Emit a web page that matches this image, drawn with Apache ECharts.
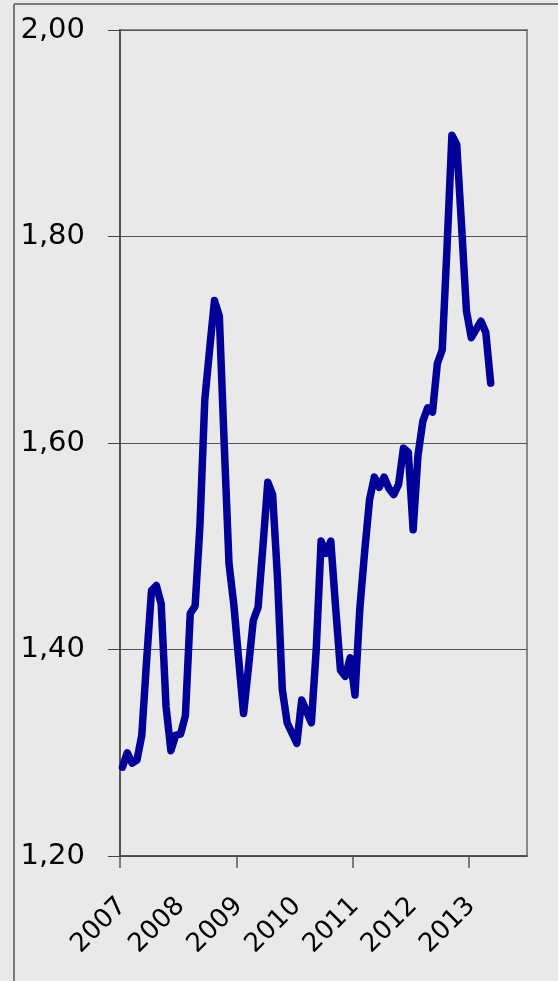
<!DOCTYPE html>
<html>
<head>
<meta charset="utf-8">
<style>
  html, body { margin: 0; padding: 0; background: #e9e9e9; }
  #chart { width: 558px; height: 981px; }
</style>
<script src="https://cdn.jsdelivr.net/npm/echarts@6/dist/echarts.min.js"></script>
</head>
<body>
<div id="chart"></div>
<script>
// Monthly categories, Jan 2007 - Dec 2013
const months = [];
for (let y = 2007; y <= 2013; y++) {
  for (let m = 1; m <= 12; m++) months.push(y + '-' + (m < 10 ? '0' + m : m));
}

// Monthly price, Jan 2007 - May 2013
const prices = [
  1.286, 1.300, 1.290, 1.293, 1.317, 1.390, 1.457, 1.462, 1.444, 1.345, 1.302, 1.317,
  1.318, 1.336, 1.435, 1.442, 1.520, 1.642, 1.691, 1.738, 1.723, 1.600, 1.483, 1.443,
  1.390, 1.338, 1.382, 1.428, 1.441, 1.500, 1.562, 1.550, 1.470, 1.361, 1.329, 1.319,
  1.309, 1.351, 1.340, 1.329, 1.400, 1.505, 1.493, 1.505, 1.441, 1.380, 1.374, 1.392,
  1.356, 1.440, 1.495, 1.545, 1.567, 1.557, 1.567, 1.556, 1.550, 1.560, 1.595, 1.591,
  1.516, 1.588, 1.621, 1.634, 1.630, 1.677, 1.690, 1.790, 1.898, 1.889, 1.810, 1.728,
  1.702, 1.710, 1.718, 1.707, 1.658
];

// Tick marks on the time axis every two years (month offsets)
const timeTicks = [0, 24, 48, 72];

// Value axis range and step
const yMin = 1.2;
const yMax = 2.0;
const yStep = 0.2;

const FONT = 'DejaVu Sans';

const chart = echarts.init(document.getElementById('chart'), null, { renderer: 'canvas' });

chart.setOption({
  backgroundColor: '#e9e9e9',
  animation: false,
  grid: {
    left: 120, right: 31, top: 30, bottom: 125,
    show: true,
    borderColor: '#8a8a8a',
    borderWidth: 2,
    backgroundColor: 'transparent'
  },
  xAxis: [
    {
      type: 'category',
      data: months,
      boundaryGap: true,
      axisLine: { show: true, lineStyle: { color: '#444', width: 1.5 } },
      axisTick: { show: false },
      axisLabel: {
        interval: function (i) { return i % 12 === 0; },
        formatter: function (v) { return v.slice(0, 4); },
        rotate: 45,
        margin: 46,
        color: '#000',
        fontFamily: FONT,
        fontSize: 26
      },
      splitLine: { show: false }
    },
    {
      // two-yearly tick marks along the bottom edge
      type: 'value',
      min: 0,
      max: months.length,
      position: 'bottom',
      axisLine: { show: false },
      axisTick: { show: true, length: 12, customValues: timeTicks, lineStyle: { color: '#555', width: 1.5 } },
      axisLabel: { show: false },
      splitLine: { show: false }
    }
  ],
  yAxis: {
    type: 'value',
    min: yMin,
    max: yMax,
    interval: yStep,
    axisLine: { show: true, lineStyle: { color: '#555', width: 2 } },
    axisTick: { show: true, inside: false, length: 12, lineStyle: { color: '#444', width: 1 } },
    axisLabel: {
      margin: 35,
      color: '#000',
      fontFamily: FONT,
      fontSize: 29,
      formatter: function (v) { return v.toFixed(2).replace('.', ','); }
    },
    splitLine: { show: true, lineStyle: { color: '#555', width: 1 } }
  },
  series: [{
    type: 'line',
    xAxisIndex: 0,
    data: prices,
    showSymbol: false,
    symbol: 'none',
    smooth: false,
    lineStyle: { color: '#000099', width: 7.5, cap: 'round', join: 'round' }
  }],
  graphic: [
    { type: 'line', shape: { x1: 14, y1: 4, x2: 14, y2: 981 }, style: { stroke: '#7a7a7a', lineWidth: 2 } },
    { type: 'line', shape: { x1: 14, y1: 4, x2: 558, y2: 4 }, style: { stroke: '#7a7a7a', lineWidth: 2 } }
  ]
});
</script>
</body>
</html>
